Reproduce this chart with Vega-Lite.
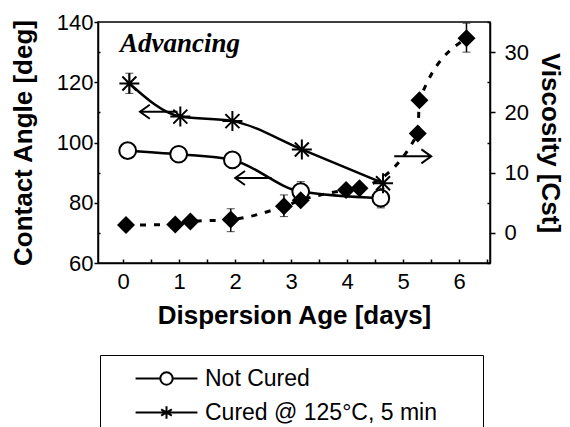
{
  "$schema": "https://vega.github.io/schema/vega-lite/v6.json",
  "width": 392,
  "height": 241,
  "autosize": {"type": "none"},
  "padding": {"left": 98, "top": 22, "right": 80, "bottom": 164},
  "background": "white",
  "config": {
    "view": {"stroke": "black", "strokeWidth": 1.5},
    "font": "Liberation Sans",
    "axis": {
      "domainColor": "black", "domainWidth": 1.5, "tickColor": "black", "tickWidth": 1.5,
      "labelColor": "black", "titleColor": "black", "labelFont": "Liberation Sans", "titleFont": "Liberation Sans",
      "labelFontSize": 22, "titleFontSize": 26, "titleFontWeight": "bold", "grid": false, "labelOverlap": false, "labelFlush": false
    }
  },
  "title": {"text": "Advancing", "font": "Liberation Serif", "fontSize": 27, "fontStyle": "italic", "fontWeight": "bold", "anchor": "start", "frame": "group", "offset": 0, "dx": 22, "dy": 47, "color": "black"},
  "datasets": {
    "pts": [
      {"series": "Not Cured", "day": 0.08, "value": 97.3, "lo": 95.8, "hi": 98.8},
      {"series": "Not Cured", "day": 0.99, "value": 96.1},
      {"series": "Not Cured", "day": 1.95, "value": 94.2, "lo": 92.4, "hi": 96.6},
      {"series": "Not Cured", "day": 3.17, "value": 83.7, "lo": 80.5, "hi": 87},
      {"series": "Not Cured", "day": 4.6, "value": 81.5, "lo": 78.3, "hi": 84.8},
      {"series": "Cured @ 125°C, 5 min", "day": 0.11, "value": 119.6, "lo": 116.3, "hi": 123},
      {"series": "Cured @ 125°C, 5 min", "day": 1.02, "value": 108.6},
      {"series": "Cured @ 125°C, 5 min", "day": 1.95, "value": 107.1},
      {"series": "Cured @ 125°C, 5 min", "day": 3.19, "value": 97.7},
      {"series": "Cured @ 125°C, 5 min", "day": 4.64, "value": 86.5},
      {"series": "Viscosity", "day": 0.05, "value": 1.3},
      {"series": "Viscosity", "day": 0.93, "value": 1.4},
      {"series": "Viscosity", "day": 1.2, "value": 1.9},
      {"series": "Viscosity", "day": 1.92, "value": 2.2, "lo": 0.2, "hi": 4},
      {"series": "Viscosity", "day": 2.87, "value": 4.4, "lo": 2.7, "hi": 6.3},
      {"series": "Viscosity", "day": 3.17, "value": 5.4},
      {"series": "Viscosity", "day": 3.98, "value": 7.1},
      {"series": "Viscosity", "day": 4.22, "value": 7.4},
      {"series": "Viscosity", "day": 5.26, "value": 16.5},
      {"series": "Viscosity", "day": 5.29, "value": 22},
      {"series": "Viscosity", "day": 6.13, "value": 32.3, "lo": 30, "hi": 34.8}
    ],
    "arrows": [
      {"side": "left", "day": 0.3, "day2": 0.97, "value": 110.2},
      {"side": "left", "day": 2.0, "day2": 2.65, "value": 88.2},
      {"side": "right", "day": 5.5, "day2": 4.84, "value": 12.7}
    ]
  },
  "encoding": {
    "x": {"field": "day", "type": "quantitative", "scale": {"domain": [-0.45, 6.55], "nice": false, "zero": false},
      "axis": {"title": "Dispersion Age [days]", "values": [0, 0.5, 1, 1.5, 2, 2.5, 3, 3.5, 4, 4.5, 5, 5.5, 6, 6.5],
        "labelExpr": "datum.value % 1 == 0 ? format(datum.value, 'd') : ''",
        "tickSize": -4, "labelPadding": 12, "titlePadding": 10}}
  },
  "resolve": {"scale": {"y": "independent"}},
  "layer": [
    {
      "encoding": {
        "y": {"field": "value", "type": "quantitative", "scale": {"domain": [60, 140], "nice": false, "zero": false},
          "axis": {"orient": "left", "title": "Contact Angle [deg]", "values": [60, 70, 80, 90, 100, 110, 120, 130, 140],
            "labelExpr": "datum.value % 20 == 0 ? datum.label : ''",
            "tickSize": {"condition": {"test": "datum.value % 20 != 0", "value": -2}, "value": 4},
            "labelPadding": 1, "titlePadding": 20}}
      },
      "layer": [
        {
          "data": {"name": "pts"},
          "transform": [{"filter": "datum.series == 'Not Cured'"}],
          "mark": {"type": "line", "interpolate": "monotone", "color": "black", "strokeWidth": 2.5}
        },
        {
          "data": {"name": "pts"},
          "transform": [{"filter": "datum.series == 'Cured @ 125°C, 5 min'"}],
          "mark": {"type": "line", "interpolate": "monotone", "color": "black", "strokeWidth": 2.5}
        },
        {
          "data": {"name": "pts"},
          "transform": [{"filter": "datum.series != 'Viscosity' && isValid(datum.lo)"}],
          "mark": {"type": "errorbar", "color": "black", "ticks": {"size": 8, "strokeWidth": 1.5}, "rule": {"strokeWidth": 1.5}},
          "encoding": {
            "y": {"field": "lo", "type": "quantitative", "scale": {"domain": [60, 140], "nice": false, "zero": false},
              "axis": {"orient": "left", "title": "Contact Angle [deg]", "values": [60, 70, 80, 90, 100, 110, 120, 130, 140],
                "labelExpr": "datum.value % 20 == 0 ? datum.label : ''",
                "tickSize": {"condition": {"test": "datum.value % 20 != 0", "value": -2}, "value": 4},
                "labelPadding": 1, "titlePadding": 20}},
            "y2": {"field": "hi"}
          }
        },
        {
          "data": {"name": "pts"},
          "transform": [{"filter": "datum.series == 'Not Cured'"}],
          "mark": {"type": "point", "shape": "circle", "filled": true, "fill": "white", "stroke": "black", "strokeWidth": 2, "size": 280, "opacity": 1}
        },
        {
          "data": {"name": "pts"},
          "transform": [{"filter": "datum.series == 'Cured @ 125°C, 5 min'"}],
          "mark": {"type": "point", "shape": "M 0 -1 L 0 1 M -1 0 L 1 0 M -0.7 -0.7 L 0.7 0.7 M -0.7 0.7 L 0.7 -0.7", "filled": false, "stroke": "black", "strokeWidth": 2, "size": 400, "opacity": 1}
        },
        {
          "data": {"name": "arrows"},
          "transform": [{"filter": "datum.side == 'left'"}],
          "mark": {"type": "rule", "color": "black", "strokeWidth": 2},
          "encoding": {"x2": {"field": "day2"}}
        },
        {
          "data": {"name": "arrows"},
          "transform": [{"filter": "datum.side == 'left'"}],
          "mark": {"type": "point", "shape": "M 1.4 -1 L 0 0 L 1.4 1", "filled": false, "stroke": "black", "strokeWidth": 2, "size": 196, "opacity": 1}
        },
        {
          "data": {"name": "pts"},
          "transform": [{"filter": "datum.series == 'legend only'"}],
          "mark": {"type": "point", "filled": false, "color": "black", "strokeWidth": 2, "size": 425, "opacity": 1},
          "encoding": {
            "shape": {
              "field": "series", "type": "nominal",
              "scale": {"domain": ["Not Cured", "Cured @ 125°C, 5 min"],
                "range": ["M -3 0 L -0.6 0 M 0.6 0 L 3 0 M -0.6 0 A 0.6 0.6 0 1 0 0.6 0 A 0.6 0.6 0 1 0 -0.6 0",
                          "M -3 0 L 3 0 M 0 -0.6 L 0 0.6 M -0.52 -0.3 L 0.52 0.3 M -0.52 0.3 L 0.52 -0.3"]},
              "legend": {
                "orient": "none", "legendX": 2, "legendY": 333, "title": null,
                "strokeColor": "black", "fillColor": "white", "padding": 12,
                "labelFont": "Liberation Sans", "labelFontSize": 23, "labelColor": "black", "labelLimit": 600,
                "labelExpr": "datum.label + '\u2800\u2800'",
                "symbolSize": 425, "symbolStrokeColor": "black", "symbolStrokeWidth": 2,
                "symbolOpacity": 1, "symbolOffset": 43, "labelOffset": 27, "rowPadding": 10,
                "encode": {"symbols": {"update": {"stroke": {"value": "black"}, "strokeWidth": {"value": 2}, "opacity": {"value": 1}}}}
              }
            }
          }
        }
      ]
    },
    {
      "encoding": {
        "y": {"field": "value", "type": "quantitative", "scale": {"domain": [-5, 35], "nice": false, "zero": false},
          "axis": {"orient": "right", "title": "Viscosity [Cst]", "titleAngle": 90, "values": [-5, 0, 5, 10, 15, 20, 25, 30, 35],
            "labelExpr": "datum.value % 10 == 0 ? datum.label : ''",
            "tickSize": {"condition": {"test": "datum.value % 10 != 0", "value": -3}, "value": 5},
            "labelPadding": 9, "titlePadding": 8}}
      },
      "layer": [
        {
          "data": {"name": "pts"},
          "transform": [{"filter": "datum.series == 'Viscosity'"}],
          "mark": {"type": "line", "interpolate": "monotone", "color": "black", "strokeWidth": 3, "strokeDash": [6, 8]}
        },
        {
          "data": {"name": "pts"},
          "transform": [{"filter": "datum.series == 'Viscosity' && isValid(datum.lo)"}],
          "mark": {"type": "errorbar", "color": "black", "ticks": {"size": 8, "strokeWidth": 1.5}, "rule": {"strokeWidth": 1.5}},
          "encoding": {
            "y": {"field": "lo", "type": "quantitative", "scale": {"domain": [-5, 35], "nice": false, "zero": false},
              "axis": {"orient": "right", "title": "Viscosity [Cst]", "titleAngle": 90, "values": [-5, 0, 5, 10, 15, 20, 25, 30, 35],
                "labelExpr": "datum.value % 10 == 0 ? datum.label : ''",
                "tickSize": {"condition": {"test": "datum.value % 10 != 0", "value": -3}, "value": 5},
                "labelPadding": 9, "titlePadding": 8}},
            "y2": {"field": "hi"}
          }
        },
        {
          "data": {"name": "pts"},
          "transform": [{"filter": "datum.series == 'Viscosity'"}],
          "mark": {"type": "point", "shape": "diamond", "filled": true, "color": "black", "size": 324, "opacity": 1}
        },
        {
          "data": {"name": "arrows"},
          "transform": [{"filter": "datum.side == 'right'"}],
          "mark": {"type": "rule", "color": "black", "strokeWidth": 2},
          "encoding": {"x2": {"field": "day2"}}
        },
        {
          "data": {"name": "arrows"},
          "transform": [{"filter": "datum.side == 'right'"}],
          "mark": {"type": "point", "shape": "M -1.4 -1 L 0 0 L -1.4 1", "filled": false, "stroke": "black", "strokeWidth": 2, "size": 196, "opacity": 1}
        }
      ]
    }
  ]
}
